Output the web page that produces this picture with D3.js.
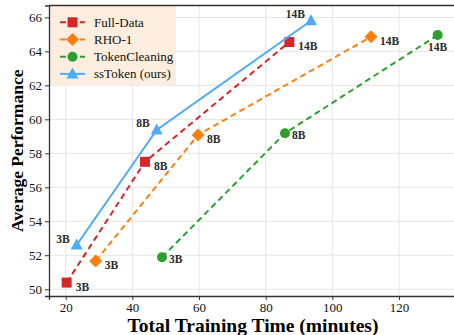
<!DOCTYPE html>
<html>
<head>
<meta charset="utf-8">
<script src="https://cdn.jsdelivr.net/npm/d3@7"></script>
<style>
  body { margin: 0; background: #fff; }
  svg { display: block; font-family: "Liberation Serif", "DejaVu Serif", serif; }
</style>
</head>
<body>
<svg></svg>
<script>
var width = 454,
    height = 335;

var sizes = ["3B", "8B", "14B"];
var fullData = [[20.3, 50.39], [43.8, 57.5], [87.1, 64.55]];
var rho1 = [[29.0, 51.66], [59.7, 59.08], [111.6, 64.86]];
var tokenCleaning = [[48.9, 51.88], [85.8, 59.18], [131.6, 64.96]];
var ssToken = [[23.3, 52.6], [47.3, 59.37], [93.6, 65.8]];
var xTicks = [20, 40, 60, 80, 100, 120];
var yTicks = [50, 52, 54, 56, 58, 60, 62, 64, 66];

var series = [
    { name: "Full-Data", values: fullData, color: "#d62728", dash: "6,4", marker: "square", labelDx: 9, labelDy: 8, anchor: "start" },
    { name: "RHO-1", values: rho1, color: "#ff7f0e", dash: "6,4", marker: "diamond", labelDx: 9, labelDy: 8, anchor: "start" },
    { name: "TokenCleaning", values: tokenCleaning, color: "#2ca02c", dash: "6,4", marker: "circle", labelDx: 7, labelDy: 6, anchor: "start" },
    { name: "ssToken (ours)", values: ssToken, color: "#4dabf7", dash: null, marker: "triangle", labelDx: -7, labelDy: -3, anchor: "end" }
];

var margin = { left: 49, top: 5.5, right: -5, bottom: 39 };
var plotW = width - margin.left - margin.right,
    plotH = height - margin.top - margin.bottom;

var svg = d3.select("svg")
    .attr("width", width)
    .attr("height", height);

var x = d3.scaleLinear().domain([15, 138]).range([0, plotW]);
var y = d3.scaleLinear().domain([49.6, 66.7]).range([plotH, 0]);

var chart = svg.append("g")
    .attr("transform", "translate(" + margin.left + "," + margin.top + ")");

// grid
chart.append("g").selectAll("line")
    .data(xTicks).enter().append("line")
    .attr("x1", function(d) { return x(d); })
    .attr("x2", function(d) { return x(d); })
    .attr("y1", 0).attr("y2", plotH)
    .attr("stroke", "#e3e3e3").attr("stroke-width", 1);
chart.append("g").selectAll("line")
    .data(yTicks).enter().append("line")
    .attr("y1", function(d) { return y(d); })
    .attr("y2", function(d) { return y(d); })
    .attr("x1", 0).attr("x2", plotW)
    .attr("stroke", "#e3e3e3").attr("stroke-width", 1);

// legend background (drawn under lines)
chart.append("rect")
    .attr("x", 0).attr("y", 0)
    .attr("width", 127).attr("height", 80)
    .attr("fill", "#fdebd9").attr("opacity", 0.85);

// axes
var xAxis = d3.axisBottom(x).tickValues(xTicks).tickSize(4).tickPadding(3);
var yAxis = d3.axisLeft(y).tickValues(yTicks).tickSize(4).tickPadding(3);

var gx = chart.append("g").attr("transform", "translate(0," + plotH + ")").call(xAxis);
var gy = chart.append("g").call(yAxis);
[gx, gy].forEach(function(g) {
    g.select(".domain").attr("stroke", "#333").attr("stroke-width", 1.3);
    g.selectAll(".tick line").attr("stroke", "#333");
    g.selectAll(".tick text")
        .attr("font-family", "Liberation Serif, serif")
        .attr("font-size", 13)
        .attr("fill", "#111");
});
chart.append("line")
    .attr("x1", 0).attr("x2", plotW).attr("y1", 0).attr("y2", 0)
    .attr("stroke", "#333").attr("stroke-width", 1.3);

var line = d3.line()
    .x(function(d) { return x(d[0]); })
    .y(function(d) { return y(d[1]); });

function drawMarker(g, type, color) {
    if (type === "square") {
        g.append("rect").attr("x", -5).attr("y", -5).attr("width", 10).attr("height", 10).attr("fill", color);
    } else if (type === "diamond") {
        g.append("path").attr("d", "M0,-6.5L6.5,0L0,6.5L-6.5,0Z").attr("fill", color);
    } else if (type === "circle") {
        g.append("circle").attr("r", 5).attr("fill", color);
    } else {
        g.append("path").attr("d", "M0,-6.5L6,4.5L-6,4.5Z").attr("fill", color);
    }
}

series.forEach(function(s) {
    chart.append("path")
        .datum(s.values)
        .attr("fill", "none")
        .attr("stroke", s.color)
        .attr("stroke-width", 2)
        .attr("stroke-dasharray", s.dash)
        .attr("d", line);
    s.values.forEach(function(d) {
        var m = chart.append("g").attr("transform", "translate(" + x(d[0]) + "," + y(d[1]) + ")");
        drawMarker(m, s.marker, s.color);
    });
});

// size labels
series.forEach(function(s) {
    s.values.forEach(function(d, i) {
        var dx = s.labelDx, dy = s.labelDy, anchor = s.anchor;
        if (s.name === "TokenCleaning" && i === 2) { dx = 0; dy = 16; anchor = "middle"; }
        if (s.name === "ssToken (ours)" && i === 2) { dx = -6; dy = -3; }
        if (s.name === "ssToken (ours)" && i === 0) { dx = -7; dy = -2; }
        chart.append("text")
            .attr("x", x(d[0]) + dx)
            .attr("y", y(d[1]) + dy)
            .attr("text-anchor", anchor)
            .attr("font-size", 11.5)
            .attr("font-weight", "bold")
            .attr("fill", "#2b2b2b")
            .attr("stroke", "#fff")
            .attr("stroke-width", 2.5)
            .attr("paint-order", "stroke")
            .text(sizes[i]);
    });
});

// legend
var legend = chart.append("g");
series.forEach(function(s, i) {
    var ly = 16.8 + i * 17.2;
    var g = legend.append("g").attr("transform", "translate(0," + ly + ")");
    g.append("line")
        .attr("x1", 11).attr("x2", 36)
        .attr("stroke", s.color).attr("stroke-width", 2)
        .attr("stroke-dasharray", s.dash);
    var m = g.append("g").attr("transform", "translate(23.5,0)");
    drawMarker(m, s.marker, s.color);
    g.append("text")
        .attr("x", 45).attr("y", 4.5)
        .attr("font-size", 13)
        .attr("fill", "#111")
        .text(s.name);
});

// axis titles
svg.append("text")
    .attr("x", 253).attr("y", 332)
    .attr("text-anchor", "middle")
    .attr("font-size", 19.5)
    .attr("font-weight", "bold")
    .text("Total Training Time (minutes)");
svg.append("text")
    .attr("transform", "translate(23," + (margin.top + plotH / 2) + ") rotate(-90)")
    .attr("text-anchor", "middle")
    .attr("font-size", 17.5)
    .attr("font-weight", "bold")
    .text("Average Performance");
</script>
</body>
</html>
